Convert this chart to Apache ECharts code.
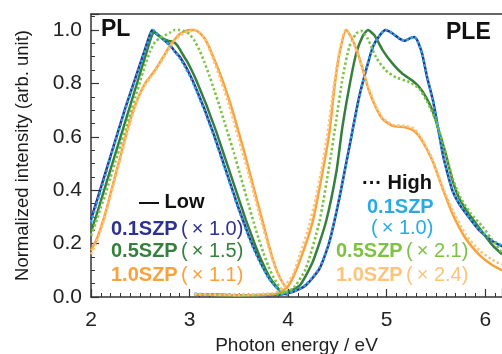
<!DOCTYPE html>
<html>
<head>
<meta charset="utf-8">
<script src="https://cdn.jsdelivr.net/npm/echarts@6/dist/echarts.min.js"></script>
<style>
  html, body { margin: 0; padding: 0; background: #fff; }
  #chart { width: 502px; height: 354px; }
</style>
</head>
<body>
<div id="chart"></div>
<script>
// PL curves (emission), [photon energy eV, normalized intensity]
const plLow01 = [[2.00,0.29],[2.05,0.35],[2.10,0.41],[2.15,0.47],[2.20,0.53],[2.25,0.59],[2.30,0.65],[2.35,0.71],[2.40,0.765],[2.45,0.82],[2.50,0.875],[2.55,0.93],[2.59,0.975],[2.62,1.0],[2.65,0.99],[2.70,0.975],[2.75,0.96],[2.80,0.945],[2.85,0.92],[2.90,0.9],[2.95,0.87],[3.00,0.835],[3.05,0.795],[3.10,0.75],[3.15,0.705],[3.20,0.655],[3.25,0.605],[3.30,0.55],[3.35,0.495],[3.40,0.44],[3.45,0.385],[3.50,0.33],[3.55,0.28],[3.60,0.23],[3.65,0.185],[3.70,0.145],[3.75,0.108],[3.80,0.075],[3.85,0.05],[3.90,0.03],[3.95,0.015],[4.00,0.008]];
const plHigh01 = [[2.00,0.28],[2.05,0.34],[2.10,0.40],[2.15,0.46],[2.20,0.525],[2.25,0.585],[2.30,0.645],[2.35,0.705],[2.40,0.76],[2.45,0.815],[2.50,0.87],[2.55,0.925],[2.59,0.97],[2.63,1.0],[2.66,0.99],[2.70,0.975],[2.75,0.96],[2.80,0.94],[2.85,0.92],[2.90,0.895],[2.95,0.865],[3.00,0.83],[3.05,0.79],[3.10,0.745],[3.15,0.70],[3.20,0.65],[3.25,0.60],[3.30,0.545],[3.35,0.49],[3.40,0.435],[3.45,0.38],[3.50,0.325],[3.55,0.275],[3.60,0.225],[3.65,0.18],[3.70,0.14],[3.75,0.105],[3.80,0.072],[3.85,0.048],[3.90,0.028],[3.95,0.014],[4.00,0.007]];
const plLow05 = [[2.00,0.245],[2.05,0.30],[2.10,0.36],[2.15,0.42],[2.20,0.48],[2.25,0.54],[2.30,0.60],[2.35,0.66],[2.40,0.72],[2.45,0.78],[2.50,0.84],[2.55,0.90],[2.60,0.96],[2.64,0.995],[2.67,0.985],[2.72,0.97],[2.78,0.96],[2.84,0.955],[2.88,0.94],[2.92,0.915],[2.97,0.885],[3.02,0.85],[3.07,0.81],[3.12,0.765],[3.17,0.72],[3.22,0.67],[3.27,0.62],[3.32,0.565],[3.37,0.51],[3.42,0.455],[3.47,0.40],[3.52,0.345],[3.57,0.29],[3.62,0.24],[3.67,0.19],[3.72,0.145],[3.77,0.105],[3.82,0.07],[3.87,0.045],[3.92,0.025],[3.97,0.012]];
const plHigh05 = [[2.00,0.23],[2.05,0.28],[2.10,0.335],[2.15,0.39],[2.20,0.45],[2.25,0.51],[2.30,0.57],[2.35,0.63],[2.40,0.69],[2.45,0.75],[2.50,0.81],[2.55,0.87],[2.60,0.92],[2.65,0.955],[2.70,0.97],[2.75,0.98],[2.80,0.99],[2.85,1.0],[2.90,1.0],[2.95,0.995],[3.00,0.985],[3.05,0.96],[3.10,0.925],[3.15,0.88],[3.20,0.83],[3.25,0.775],[3.30,0.72],[3.35,0.66],[3.40,0.60],[3.45,0.54],[3.50,0.475],[3.55,0.41],[3.60,0.345],[3.65,0.28],[3.70,0.22],[3.75,0.165],[3.80,0.115],[3.85,0.075],[3.90,0.045],[3.95,0.022],[4.00,0.01]];
const plLow10 = [[2.00,0.175],[2.05,0.21],[2.10,0.26],[2.15,0.32],[2.20,0.39],[2.25,0.46],[2.30,0.53],[2.35,0.60],[2.40,0.665],[2.45,0.72],[2.50,0.765],[2.55,0.80],[2.60,0.825],[2.65,0.85],[2.70,0.88],[2.75,0.91],[2.80,0.94],[2.85,0.965],[2.90,0.985],[2.95,0.995],[3.00,1.0],[3.05,1.0],[3.10,0.99],[3.15,0.97],[3.20,0.935],[3.25,0.89],[3.30,0.845],[3.35,0.795],[3.40,0.74],[3.45,0.68],[3.50,0.615],[3.55,0.55],[3.60,0.48],[3.65,0.41],[3.70,0.34],[3.75,0.27],[3.80,0.20],[3.85,0.135],[3.90,0.085],[3.95,0.05],[4.00,0.03]];
const plHigh10 = [[2.00,0.16],[2.05,0.20],[2.10,0.25],[2.15,0.31],[2.20,0.38],[2.25,0.45],[2.30,0.52],[2.35,0.59],[2.40,0.655],[2.45,0.715],[2.50,0.76],[2.55,0.795],[2.60,0.82],[2.65,0.845],[2.70,0.875],[2.75,0.905],[2.80,0.935],[2.85,0.96],[2.90,0.98],[2.95,0.99],[3.00,0.995],[3.05,1.0],[3.10,0.99],[3.15,0.97],[3.20,0.93],[3.25,0.88],[3.30,0.83],[3.35,0.775],[3.40,0.72],[3.45,0.655],[3.50,0.59],[3.55,0.525],[3.60,0.46],[3.65,0.39],[3.70,0.32],[3.75,0.255],[3.80,0.19],[3.85,0.13],[3.90,0.085],[3.95,0.05],[4.00,0.03]];

// PLE curves (excitation)
const pleLow01 = [[3.05,0.01],[3.30,0.008],[3.60,0.006],[3.90,0.008],[4.05,0.019],[4.18,0.044],[4.32,0.107],[4.42,0.208],[4.52,0.371],[4.62,0.56],[4.72,0.748],[4.79,0.849],[4.86,0.937],[4.93,0.98],[4.99,1.0],[5.06,0.987],[5.13,0.968],[5.18,0.96],[5.23,0.968],[5.28,0.974],[5.31,0.962],[5.36,0.911],[5.41,0.823],[5.47,0.735],[5.52,0.635],[5.57,0.534],[5.62,0.459],[5.67,0.396],[5.74,0.346],[5.84,0.296],[5.94,0.25],[6.07,0.21],[6.17,0.19]];
const pleHigh01 = [[3.05,0.012],[3.30,0.008],[3.60,0.007],[3.90,0.009],[4.05,0.02],[4.18,0.046],[4.32,0.11],[4.42,0.21],[4.52,0.372],[4.62,0.56],[4.72,0.748],[4.79,0.85],[4.86,0.937],[4.93,0.98],[4.99,1.0],[5.06,0.987],[5.13,0.968],[5.18,0.96],[5.23,0.968],[5.28,0.974],[5.31,0.962],[5.36,0.911],[5.41,0.823],[5.47,0.735],[5.52,0.635],[5.57,0.534],[5.62,0.459],[5.67,0.396],[5.74,0.346],[5.84,0.296],[5.94,0.252],[6.07,0.212],[6.17,0.192]];
const pleLow05 = [[3.05,0.01],[3.50,0.006],[3.90,0.01],[4.00,0.02],[4.12,0.044],[4.25,0.132],[4.385,0.283],[4.49,0.47],[4.55,0.635],[4.62,0.786],[4.69,0.911],[4.76,0.98],[4.81,1.0],[4.875,0.98],[4.96,0.924],[5.06,0.874],[5.16,0.836],[5.26,0.811],[5.33,0.786],[5.40,0.748],[5.465,0.698],[5.53,0.622],[5.60,0.534],[5.67,0.434],[5.735,0.371],[5.84,0.308],[5.94,0.258],[6.07,0.195],[6.17,0.16]];
const pleHigh05 = [[3.05,0.01],[3.50,0.007],[3.90,0.012],[4.05,0.032],[4.18,0.107],[4.318,0.283],[4.42,0.497],[4.487,0.66],[4.554,0.823],[4.62,0.936],[4.69,0.987],[4.74,0.997],[4.807,0.968],[4.89,0.899],[4.99,0.849],[5.094,0.823],[5.23,0.805],[5.33,0.78],[5.414,0.729],[5.499,0.66],[5.583,0.56],[5.667,0.447],[5.75,0.371],[5.85,0.315],[5.97,0.264],[6.07,0.215],[6.17,0.165]];
const pleLow10 = [[3.05,0.01],[3.50,0.006],[3.85,0.01],[3.95,0.025],[4.01,0.045],[4.115,0.132],[4.25,0.283],[4.35,0.47],[4.42,0.62],[4.47,0.786],[4.52,0.91],[4.59,1.0],[4.64,0.974],[4.71,0.91],[4.77,0.836],[4.82,0.773],[4.89,0.71],[4.96,0.666],[5.06,0.641],[5.195,0.635],[5.28,0.622],[5.36,0.585],[5.465,0.51],[5.565,0.409],[5.67,0.31],[5.80,0.22],[5.94,0.158],[6.07,0.12],[6.17,0.10]];
const pleHigh10 = [[3.05,0.01],[3.50,0.008],[3.85,0.015],[3.95,0.035],[4.05,0.085],[4.12,0.16],[4.20,0.25],[4.28,0.37],[4.35,0.50],[4.41,0.64],[4.46,0.78],[4.51,0.90],[4.55,0.97],[4.58,1.0],[4.62,0.985],[4.68,0.935],[4.75,0.86],[4.82,0.78],[4.89,0.715],[4.96,0.67],[5.06,0.645],[5.20,0.64],[5.28,0.63],[5.36,0.59],[5.46,0.52],[5.56,0.42],[5.67,0.325],[5.80,0.235],[5.94,0.175],[6.07,0.14],[6.17,0.12]];

const xTicks = [2, 3, 4, 5, 6];
const yTicks = [0, 0.2, 0.4, 0.6, 0.8, 1.0];

const navy = '#2e3192', lightBlue = '#29abe2';
const darkGreen = '#35803e', lightGreen = '#7dc242';
const orange = '#f8a23c', lightOrange = '#fbc47a';
const font = 'Liberation Sans, Arial, sans-serif';

const chart = echarts.init(document.getElementById('chart'), null, { renderer: 'canvas' });

function solid(data, color) {
  return {
    type: 'line', data, showSymbol: false, smooth: 0.2, z: 2,
    lineStyle: { color, width: 2.5 }, silent: true
  };
}
function dotted(data, color) {
  return {
    type: 'line', data, showSymbol: false, smooth: 0.2, z: 3,
    lineStyle: { color, width: 2.6, type: [2.4, 2.4], cap: 'butt' }, silent: true
  };
}

function txt(left, top, text, color, size, weight) {
  return {
    type: 'text', left, top,
    style: { text, fill: color, font: (weight || 'bold') + ' ' + size + 'px ' + font }
  };
}
function rich(left, top, name, factor, color) {
  return {
    type: 'text', left, top,
    style: {
      text: '{a|' + name + '} {b|(\u2009\u00d7 ' + factor + ')}',
      rich: {
        a: { fill: color, fontFamily: font, fontWeight: 'bold', fontSize: 20 },
        b: { fill: color, fontFamily: font, fontWeight: 'normal', fontSize: 20 }
      }
    }
  };
}

chart.setOption({
  animation: false,
  backgroundColor: '#fff',
  grid: { left: 91, right: 0, top: 14, bottom: 57, outerBoundsMode: 'none', containLabel: false },
  xAxis: [{
    type: 'value', min: 2, max: 6.17, interval: 1,
    name: 'Photon energy / eV', nameLocation: 'middle', nameGap: 38,
    nameTextStyle: { fontFamily: font, fontSize: 19, color: '#222' },
    axisLine: { lineStyle: { color: '#333', width: 1.5 } },
    axisTick: { inside: true, length: 8, lineStyle: { color: '#333', width: 1.2 } },
    minorTick: { show: true, splitNumber: 10, length: 4, lineStyle: { color: '#333', width: 1 } },
    axisLabel: {
      fontFamily: font, fontSize: 21, color: '#222', margin: 13,
      formatter: v => xTicks.includes(v) ? String(v) : ''
    },
    splitLine: { show: false }
  }, {
    type: 'value', position: 'top', min: 2, max: 6.17,
    axisLine: { show: true, lineStyle: { color: '#333', width: 1.5 } },
    axisTick: { show: false }, axisLabel: { show: false }, splitLine: { show: false }
  }],
  yAxis: {
    type: 'value', min: 0, max: 1.06, interval: 0.2,
    name: 'Normalized intensity (arb. unit)', nameLocation: 'middle', nameGap: 59,
    nameTextStyle: { fontFamily: font, fontSize: 18.5, color: '#1a1a1a' },
    axisLine: { show: true, lineStyle: { color: '#333', width: 1.5 } },
    axisTick: { inside: true, length: 8, lineStyle: { color: '#333', width: 1.2 } },
    minorTick: { show: true, splitNumber: 4, length: 4, lineStyle: { color: '#333', width: 1 } },
    axisLabel: {
      fontFamily: font, fontSize: 21, color: '#222', margin: 9,
      formatter: v => yTicks.some(t => Math.abs(t - v) < 1e-6) ? v.toFixed(1) : ''
    },
    splitLine: { show: false }
  },
  series: [
    solid(plLow01, navy), solid(plLow05, darkGreen), solid(plLow10, orange),
    solid(pleLow01, navy), solid(pleLow05, darkGreen), solid(pleLow10, orange),
    dotted(plHigh01, lightBlue), dotted(plHigh05, lightGreen), dotted(plHigh10, lightOrange),
    dotted(pleHigh01, lightBlue), dotted(pleHigh05, lightGreen), dotted(pleHigh10, lightOrange)
  ],
  graphic: [
    txt(101, 18, 'PL', '#111', 23),
    txt(446, 21, 'PLE', '#111', 23),
    txt(139, 192, '\u2014 Low', '#111', 20),
    rich(111, 219, '0.1SZP', '1.0', navy),
    rich(111, 241, '0.5SZP', '1.5', darkGreen),
    rich(111, 265, '1.0SZP', '1.1', orange),
    txt(362, 173, '\u00b7\u00b7\u00b7 High', '#111', 20),
    txt(367, 197, '0.1SZP', lightBlue, 20),
    txt(371, 218, '(\u2009\u00d7 1.0)', lightBlue, 20, 'normal'),
    rich(336, 241, '0.5SZP', '2.1', lightGreen),
    rich(336, 265, '1.0SZP', '2.4', lightOrange)
  ]
});
</script>
</body>
</html>
